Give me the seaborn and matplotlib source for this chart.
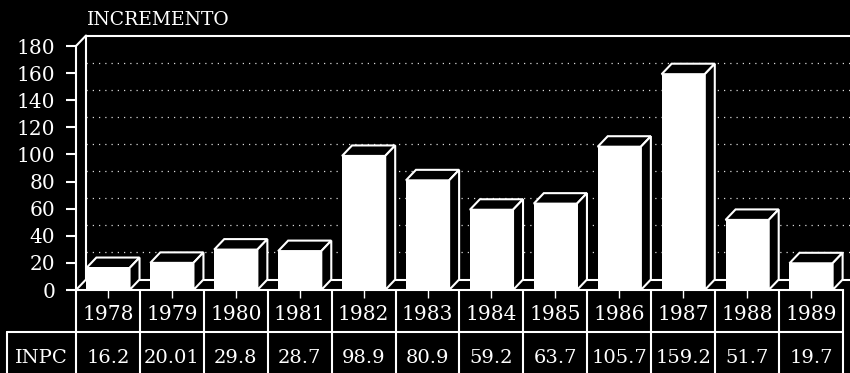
import numpy as np
import pandas as pd
import matplotlib
matplotlib.use('Agg')
import matplotlib.pyplot as plt
from matplotlib.patches import Polygon
from matplotlib.transforms import blended_transform_factory
import seaborn as sns

years = ['1978', '1979', '1980', '1981', '1982', '1983',
         '1984', '1985', '1986', '1987', '1988', '1989']
inpc = [16.2, 20.01, 29.8, 28.7, 98.9, 80.9, 59.2, 63.7, 105.7, 159.2, 51.7, 19.7]
inpc_labels = ['16.2', '20.01', '29.8', '28.7', '98.9', '80.9',
               '59.2', '63.7', '105.7', '159.2', '51.7', '19.7']
yticks = [0, 20, 40, 60, 80, 100, 120, 140, 160, 180]

sns.set_theme(style='ticks', rc={'figure.facecolor': 'black', 'axes.facecolor': 'black',
                                 'savefig.facecolor': 'black'})
plt.rcParams['font.family'] = ['DejaVu Serif', 'DejaVu Sans']

df = pd.DataFrame({'year': years, 'inpc': inpc})

fig = plt.figure(figsize=(8.5, 3.73), dpi=100)
W, H = 850, 373
ax = fig.add_axes([76 / W, (H - 290) / H, 767 / W, 244 / H])

sns.barplot(data=df, x='year', y='inpc', color='white', saturation=1,
            width=0.675, ax=ax, zorder=3, linewidth=0)
ax.set_xlim(-0.5, 11.5)
ax.set_ylim(0, 180)
ax.set_xlabel('')
ax.set_ylabel('')

# depth of the fake 3d look, in data units
dx = 10 / 63.9
dy = 10.5 * 180 / 244
lc = 'white'
lw = 1.5

# back wall: gridlines and frame
for v in yticks[1:-1]:
    ax.plot([-0.5 + dx, 11.5 + dx], [v + dy, v + dy], color=lc, lw=0.9,
            ls=(0, (1, 4)), alpha=0.85, zorder=1, clip_on=False)
ax.plot([-0.5 + dx, 12 + dx], [180 + dy, 180 + dy], color=lc, lw=lw, zorder=1, clip_on=False)
ax.plot([-0.5 + dx, -0.5 + dx], [dy, 180 + dy], color=lc, lw=lw, zorder=1, clip_on=False)
ax.plot([-0.5, -0.5 + dx], [180, 180 + dy], color=lc, lw=lw, zorder=1, clip_on=False)
ax.plot([-0.5, -0.5 + dx], [0, dy], color=lc, lw=lw, zorder=1, clip_on=False)
ax.plot([-0.5 + dx, 12 + dx], [dy, dy], color=lc, lw=lw, zorder=1, clip_on=False)

# top and side faces of each bar
for p in ax.patches:
    x0, w, h = p.get_x(), p.get_width(), p.get_height()
    top = Polygon([(x0, h), (x0 + dx, h + dy), (x0 + w + dx, h + dy), (x0 + w, h)],
                  closed=True, facecolor='black', edgecolor=lc, lw=lw, zorder=4,
                  clip_on=False)
    side = Polygon([(x0 + w, 0), (x0 + w + dx, dy), (x0 + w + dx, h + dy), (x0 + w, h)],
                   closed=True, facecolor='black', edgecolor=lc, lw=lw, zorder=4,
                   clip_on=False)
    ax.add_patch(top)
    ax.add_patch(side)

for s in ['top', 'right']:
    ax.spines[s].set_visible(False)
for s in ['left', 'bottom']:
    ax.spines[s].set_color(lc)
    ax.spines[s].set_linewidth(lw)
    ax.spines[s].set_zorder(5)

ax.set_yticks(yticks)
ax.set_yticklabels([str(v) for v in yticks])
ax.tick_params(axis='y', colors=lc, length=7, width=lw, labelsize=14.5, pad=8)
ax.set_xticks(range(len(years)))
ax.set_xticklabels([''] * len(years))
ax.tick_params(axis='x', colors=lc, direction='out', length=6, width=1.0)

# data table under the axis
tr = blended_transform_factory(ax.transData, ax.transAxes)
y_mid = -42 / 244
y_bot = -90 / 244
for k in range(len(years) + 1):
    ax.plot([k - 0.5, k - 0.5], [0, y_bot], color=lc, lw=lw, transform=tr, clip_on=False)
left_cell = -0.5 - 69 / 63.9
ax.plot([left_cell, 11.5], [y_mid, y_mid], color=lc, lw=lw, transform=tr, clip_on=False)
ax.plot([left_cell, left_cell], [y_mid, y_bot], color=lc, lw=lw, transform=tr, clip_on=False)

for i, (yr, lab) in enumerate(zip(years, inpc_labels)):
    ax.text(i, -25 / 244, yr, transform=tr, ha='center', va='center', color=lc,
            fontsize=14.5)
    ax.text(i, -68 / 244, lab, transform=tr, ha='center', va='center', color=lc,
            fontsize=14)
ax.text((left_cell - 0.5) / 2, -68 / 244, 'INPC', transform=tr, ha='center', va='center',
        color=lc, fontsize=14)

fig.text(87 / W, 1 - 25 / H, 'INCREMENTO', color=lc, fontsize=13.5, ha='left',
         va='baseline')

fig.savefig('out.png', dpi=100, facecolor='black')
